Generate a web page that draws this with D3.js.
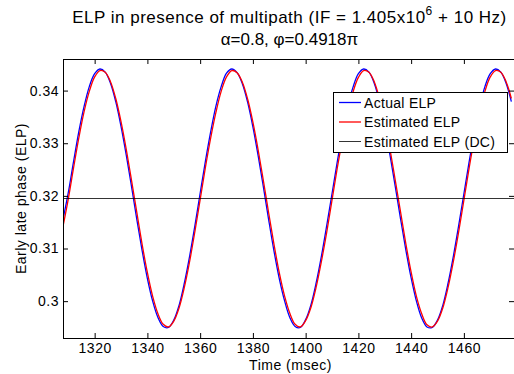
<!DOCTYPE html>
<html>
<head>
<meta charset="utf-8">
<script src="https://cdn.jsdelivr.net/npm/d3@7"></script>
<style>
  body { margin: 0; background: #fff; }
  svg { display: block; font-family: "Liberation Sans", Arial, sans-serif; }
</style>
</head>
<body>
<div id="chart"></div>
<script>
// sample instants (msec)
const timeMs = [
  1308, 1310, 1312, 1314, 1316, 1318, 1320, 1322, 1324, 1326, 1328, 1330, 1332, 1334, 1336, 1338, 1340, 1342, 1344, 1346, 1348, 1350, 1352, 1354, 1356,
  1358, 1360, 1362, 1364, 1366, 1368, 1370, 1372, 1374, 1376, 1378, 1380, 1382, 1384, 1386, 1388, 1390, 1392, 1394, 1396, 1398, 1400, 1402, 1404, 1406,
  1408, 1410, 1412, 1414, 1416, 1418, 1420, 1422, 1424, 1426, 1428, 1430, 1432, 1434, 1436, 1438, 1440, 1442, 1444, 1446, 1448, 1450, 1452, 1454, 1456,
  1458, 1460, 1462, 1464, 1466, 1468, 1470, 1472, 1474, 1476, 1478
];

const actualElp = [
  0.3155, 0.3206, 0.3265, 0.3322, 0.3370, 0.3408, 0.3432, 0.3441, 0.3435, 0.3414, 0.3379, 0.3332, 0.3277, 0.3217, 0.3155, 0.3096, 0.3043, 0.3000, 0.2969, 0.2952, 0.2950, 0.2964, 0.2992, 0.3034, 0.3085,
  0.3143, 0.3205, 0.3266, 0.3322, 0.3371, 0.3408, 0.3433, 0.3441, 0.3434, 0.3413, 0.3378, 0.3331, 0.3276, 0.3216, 0.3154, 0.3095, 0.3043, 0.3001, 0.2969, 0.2952, 0.2950, 0.2965, 0.2993, 0.3035, 0.3086,
  0.3144, 0.3204, 0.3265, 0.3321, 0.3370, 0.3407, 0.3432, 0.3441, 0.3435, 0.3414, 0.3379, 0.3332, 0.3277, 0.3217, 0.3156, 0.3097, 0.3044, 0.3000, 0.2968, 0.2951, 0.2950, 0.2964, 0.2992, 0.3034, 0.3085,
  0.3143, 0.3204, 0.3265, 0.3322, 0.3370, 0.3408, 0.3432, 0.3441, 0.3435, 0.3414, 0.3379
];

const estimatedElp = [
  0.3142, 0.3194, 0.3253, 0.3310, 0.3360, 0.3399, 0.3426, 0.3438, 0.3435, 0.3417, 0.3385, 0.3341, 0.3288, 0.3229, 0.3168, 0.3108, 0.3054, 0.3009, 0.2976, 0.2956, 0.2951, 0.2962, 0.2987, 0.3026, 0.3075,
  0.3132, 0.3193, 0.3254, 0.3310, 0.3359, 0.3399, 0.3426, 0.3438, 0.3434, 0.3416, 0.3384, 0.3340, 0.3287, 0.3228, 0.3167, 0.3108, 0.3054, 0.3010, 0.2977, 0.2956, 0.2951, 0.2963, 0.2988, 0.3027, 0.3076,
  0.3131, 0.3192, 0.3253, 0.3309, 0.3360, 0.3398, 0.3425, 0.3438, 0.3435, 0.3417, 0.3385, 0.3341, 0.3288, 0.3229, 0.3169, 0.3109, 0.3055, 0.3009, 0.2976, 0.2955, 0.2951, 0.2962, 0.2987, 0.3026, 0.3075,
  0.3131, 0.3192, 0.3253, 0.3310, 0.3360, 0.3399, 0.3426, 0.3438, 0.3435, 0.3417, 0.3385
];

const dcLevel = 0.3195;

const xTicks = [1320, 1340, 1360, 1380, 1400, 1420, 1440, 1460];
const yTicks = [0.30, 0.31, 0.32, 0.33, 0.34];
const yTickLabels = ['0.3', '0.31', '0.32', '0.33', '0.34'];

const seriesNames = ['Actual ELP', 'Estimated ELP', 'Estimated ELP (DC)'];
const seriesColors = ['#0000ff', '#ff0000', '#000000'];

const width = 514;
const height = 374;
const margin = { top: 59, right: 0, bottom: 36, left: 63 };

const x = d3.scaleLinear()
    .domain([1308, 1479])
    .range([margin.left, width - margin.right]);

const y = d3.scaleLinear()
    .domain([0.2930, 0.3460])
    .range([height - margin.bottom, margin.top]);

const svg = d3.select('#chart')
    .append('svg')
    .attr('width', width)
    .attr('height', height);

svg.append('rect')
    .attr('width', width)
    .attr('height', height)
    .attr('fill', '#fff');

// clip the curves to the axes box
svg.append('clipPath')
    .attr('id', 'plot-clip')
    .append('rect')
    .attr('x', margin.left)
    .attr('y', margin.top)
    .attr('width', width - margin.right - margin.left)
    .attr('height', height - margin.bottom - margin.top);

const line = d3.line()
    .x((d, i) => x(timeMs[i]))
    .y(d => y(d))
    .curve(d3.curveCatmullRom.alpha(0.5));

const plot = svg.append('g').attr('clip-path', 'url(#plot-clip)');

plot.append('path')
    .datum(actualElp)
    .attr('d', line)
    .attr('fill', 'none')
    .attr('stroke', seriesColors[0])
    .attr('stroke-width', 1.3);

plot.append('path')
    .datum(estimatedElp)
    .attr('d', line)
    .attr('fill', 'none')
    .attr('stroke', seriesColors[1])
    .attr('stroke-width', 1.3);

plot.append('line')
    .attr('x1', x.range()[0])
    .attr('x2', x.range()[1])
    .attr('y1', y(dcLevel))
    .attr('y2', y(dcLevel))
    .attr('stroke', seriesColors[2])
    .attr('stroke-width', 0.8);

// axes, MATLAB style: ticks pointing inward on all four sides
const tickLen = 5;
const x0 = margin.left, x1 = width - margin.right;
const y0 = height - margin.bottom, y1 = margin.top;

svg.append('g')
    .attr('transform', `translate(0,${y0})`)
    .call(d3.axisBottom(x).tickValues(xTicks).tickSize(-tickLen).tickPadding(5)
        .tickFormat(d3.format('d')).tickSizeOuter(0))
    .call(g => g.select('.domain').remove());

svg.append('g')
    .attr('transform', `translate(0,${y1})`)
    .call(d3.axisTop(x).tickValues(xTicks).tickSize(-tickLen).tickFormat('').tickSizeOuter(0))
    .call(g => g.select('.domain').remove());

svg.append('g')
    .attr('transform', `translate(${x0},0)`)
    .call(d3.axisLeft(y).tickValues(yTicks).tickSize(-tickLen).tickPadding(4)
        .tickFormat((d, i) => yTickLabels[i]).tickSizeOuter(0))
    .call(g => g.select('.domain').remove());

svg.append('g')
    .attr('transform', `translate(${x1},0)`)
    .call(d3.axisRight(y).tickValues(yTicks).tickSize(-tickLen).tickFormat('').tickSizeOuter(0))
    .call(g => g.select('.domain').remove());

svg.selectAll('.tick text')
    .attr('font-family', '"Liberation Sans", Arial, sans-serif')
    .attr('font-size', 14)
    .attr('letter-spacing', 0.5)
    .attr('fill', '#000');
svg.selectAll('.tick line').attr('stroke', '#000');

svg.append('rect')
    .attr('x', x0 + 0.5)
    .attr('y', y1 + 0.5)
    .attr('width', x1 - x0)
    .attr('height', y0 - y1)
    .attr('fill', 'none')
    .attr('stroke', '#000')
    .attr('stroke-width', 1);

// axis labels
svg.append('text')
    .attr('x', (x0 + x1) / 2 + 2)
    .attr('y', 370)
    .attr('text-anchor', 'middle')
    .attr('font-size', 14)
    .attr('letter-spacing', 0.5)
    .text('Time (msec)');

svg.append('text')
    .attr('transform', `translate(26,${(y0 + y1) / 2}) rotate(-90)`)
    .attr('text-anchor', 'middle')
    .attr('font-size', 14)
    .attr('letter-spacing', 0.5)
    .text('Early late phase (ELP)');

// title
const title = svg.append('text')
    .attr('x', (x0 + x1) / 2 + 1)
    .attr('y', 23)
    .attr('text-anchor', 'middle')
    .attr('font-size', 17)
    .attr('letter-spacing', 0.5);
title.append('tspan').text('ELP in presence of multipath (IF = 1.405x10');
title.append('tspan').attr('dy', -8).attr('font-size', 12).text('6');
title.append('tspan').attr('dy', 8).text(' + 10 Hz)');

svg.append('text')
    .attr('x', (x0 + x1) / 2 + 1)
    .attr('y', 45)
    .attr('text-anchor', 'middle')
    .attr('font-size', 17)
    .text('α=0.8, φ=0.4918π');

// legend
const legend = svg.append('g').attr('transform', 'translate(333,92)');
legend.append('rect')
    .attr('x', 0.5)
    .attr('y', 0.5)
    .attr('width', 174)
    .attr('height', 60)
    .attr('fill', '#fff')
    .attr('stroke', '#000');

seriesNames.forEach((name, i) => {
    const ly = 10.5 + i * 19.5;
    legend.append('line')
        .attr('x1', 6)
        .attr('x2', 28)
        .attr('y1', ly)
        .attr('y2', ly)
        .attr('stroke', seriesColors[i])
        .attr('stroke-width', i < 2 ? 1.3 : 0.8);
    legend.append('text')
        .attr('x', 31)
        .attr('y', ly + 5)
        .attr('font-size', 14)
        .attr('letter-spacing', 0.3)
        .text(name);
});
</script>
</body>
</html>
